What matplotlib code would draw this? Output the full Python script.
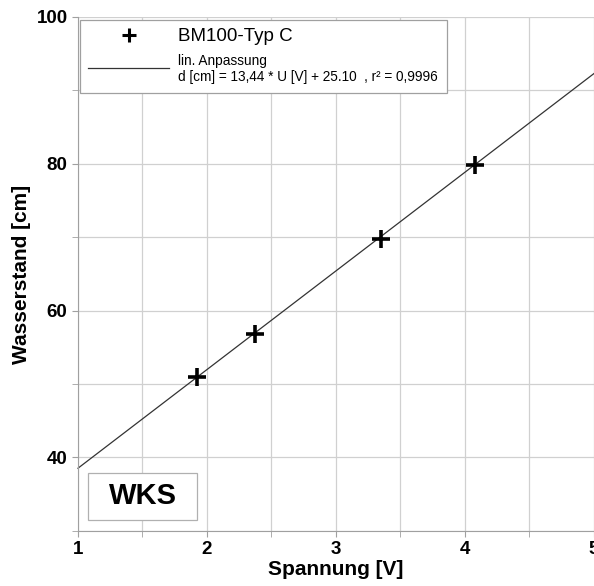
import matplotlib.pyplot as plt
from matplotlib.lines import Line2D
from matplotlib.patches import Rectangle
from matplotlib.ticker import MultipleLocator
import numpy as np

plt.rcParams['font.family'] = ['Liberation Sans', 'DejaVu Sans']

# Messwerte
spannung = [1.92, 2.37, 3.35, 4.08]
wasserstand = [51.0, 56.8, 69.7, 79.9]

# lineare Anpassung
steigung = 13.44
achse = 25.10
fit_x = [1.0, 5.0]

fig = plt.figure(figsize=(5.94, 5.86), dpi=100)
ax = fig.add_axes([0.1313, 0.094, 0.8687, 0.877])

ax.set_xlim(1, 5)
ax.set_ylim(30, 100)
ax.xaxis.set_major_locator(MultipleLocator(1))
ax.xaxis.set_minor_locator(MultipleLocator(0.5))
ax.yaxis.set_minor_locator(MultipleLocator(10))
ax.set_yticks([40, 60, 80, 100])
ax.grid(True, which='both', color='#d0d0d0', linewidth=0.9)
ax.set_axisbelow(True)

for s in ['top', 'right']:
    ax.spines[s].set_visible(False)
for s in ['left', 'bottom']:
    ax.spines[s].set_color('#a0a0a0')
ax.tick_params(which='both', direction='out', length=4, color='#a0a0a0',
               labelsize=13.5)
for lbl in ax.get_xticklabels() + ax.get_yticklabels():
    lbl.set_fontweight('bold')

fx = np.array(fit_x)
ax.plot(fx, steigung * fx + achse, color='#333333', linewidth=0.9, clip_on=False)
ax.plot(spannung, wasserstand, linestyle='none', marker='+', markersize=13,
        markeredgewidth=2.6, color='black', zorder=5)

ax.set_xlabel('Spannung [V]', fontsize=15, fontweight='bold', labelpad=1)
ax.set_ylabel('Wasserstand [cm]', fontsize=15, fontweight='bold', labelpad=4)

handles = [
    Line2D([], [], linestyle='none', marker='+', markersize=10,
           markeredgewidth=2.2, color='black'),
    Line2D([], [], color='#333333', linewidth=0.9),
]
labels = ['BM100-Typ C',
          'lin. Anpassung\nd [cm] = 13,44 * U [V] + 25.10  , r² = 0,9996']
leg = ax.legend(handles, labels, loc='upper left', bbox_to_anchor=(0.004, 0.995),
                frameon=True, fancybox=False, edgecolor='#a0a0a0',
                framealpha=1, handlelength=4.3, handletextpad=0.5,
                borderpad=0.45, labelspacing=0.45, fontsize=13.5, borderaxespad=0)
leg.get_frame().set_linewidth(0.9)
leg.get_texts()[1].set_fontsize(9.8)
leg.get_texts()[1].set_linespacing(1.25)

ax.add_patch(Rectangle((1.08, 31.5), 0.84, 6.4, fill=True, facecolor='white',
                       edgecolor='#b0b0b0', linewidth=0.9, zorder=6))
ax.text(1.5, 34.7, 'WKS', fontsize=21, fontweight='bold', ha='center',
        va='center', zorder=7)

fig.savefig('out.png', dpi=100)
